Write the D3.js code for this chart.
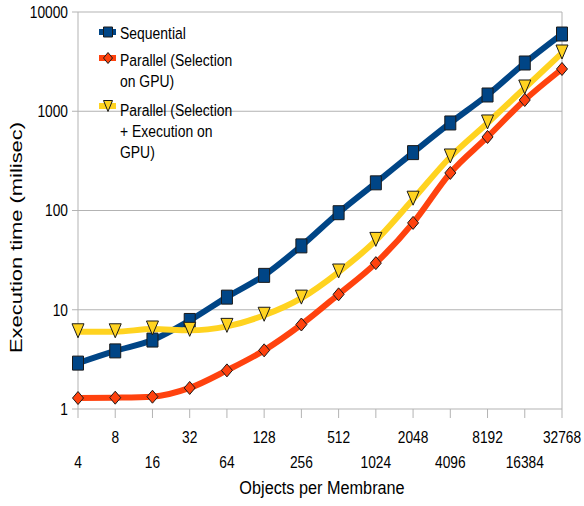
<!DOCTYPE html>
<html>
<head>
<meta charset="utf-8">
<script src="https://cdn.jsdelivr.net/npm/d3@7"></script>
<style>
  html, body { margin: 0; padding: 0; background: #fff; }
  svg { display: block; font-family: "Liberation Sans", Arial, sans-serif; }
</style>
</head>
<body>
<svg id="chart" width="584" height="506"></svg>
<script>
// ---- data ----
const objects = [4, 8, 16, 32, 64, 128, 256, 512, 1024, 2048, 4096, 8192, 16384, 32768];
const sequential = [2.9, 3.85, 4.95, 7.8, 13.4, 22.2, 44, 95, 190, 383, 762, 1458, 3063, 6000];
const parallelSel = [1.29, 1.3, 1.33, 1.63, 2.45, 3.9, 7.1, 14.3, 29.5, 75, 239, 551, 1298, 2666];
const parallelSelExec = [6.0, 6.0, 6.4, 6.2, 6.8, 8.8, 13.1, 24, 50, 130, 346, 762, 1715, 3864];
const yTicks = [1, 10, 100, 1000, 10000];
const seriesNames = ["Sequential", "Parallel (Selection on GPU)", "Parallel (Selection + Execution on GPU)"];
const legendLines = [["Sequential"], ["Parallel (Selection", "on GPU)"], ["Parallel (Selection", "+ Execution on", "GPU)"]];

// ---- layout ----
const L = 78, R = 562, T = 12, B = 409;
const svg = d3.select("#chart");
const x = d3.scaleLog().base(2).domain([4, 32768]).range([L, R]);
const y = d3.scaleLog().domain([1, 10000]).range([B, T]);
const grid = "#b3b3b3";

// gridlines (horizontal)
svg.append("g").selectAll("line").data(yTicks).join("line")
  .attr("x1", L - 6).attr("x2", R)
  .attr("y1", d => y(d)).attr("y2", d => y(d))
  .attr("stroke", grid).attr("stroke-width", 1);
// frame verticals
svg.append("line").attr("x1", L).attr("x2", L).attr("y1", T).attr("y2", B)
  .attr("stroke", grid);
svg.append("line").attr("x1", R).attr("x2", R).attr("y1", T).attr("y2", B)
  .attr("stroke", grid);
// x ticks
svg.append("g").selectAll("line").data(objects).join("line")
  .attr("x1", d => x(d)).attr("x2", d => x(d))
  .attr("y1", B).attr("y2", B + 9)
  .attr("stroke", grid);

// y tick labels
svg.append("g").selectAll("text").data(yTicks).join("text")
  .attr("transform", d => `translate(68,${y(d)}) scale(0.86,1)`)
  .attr("dy", "0.36em")
  .attr("text-anchor", "end")
  .attr("font-size", 16)
  .attr("fill", "#000")
  .text(d => d);

// x tick labels (staggered)
svg.append("g").selectAll("text").data(objects).join("text")
  .attr("transform", (d, i) => `translate(${x(d)},${i % 2 ? 443 : 468}) scale(0.86,1)`)
  .attr("text-anchor", "middle")
  .attr("font-size", 16)
  .attr("fill", "#000")
  .text(d => d);

// axis titles
svg.append("text")
  .attr("transform", `translate(322,494) scale(0.93,1)`)
  .attr("text-anchor", "middle")
  .attr("font-size", 17.5)
  .attr("fill", "#000")
  .text("Objects per Membrane");

svg.append("text")
  .attr("transform", `translate(22,${(122 + 353) / 2}) rotate(-90)`)
  .attr("x", -115.5)
  .attr("font-size", 17)
  .attr("textLength", 231)
  .attr("lengthAdjust", "spacingAndGlyphs")
  .attr("fill", "#000")
  .text("Execution time (milisec)");

// ---- series ----
const colors = ["#004586", "#ff420e", "#ffd320"];
const allData = [sequential, parallelSel, parallelSelExec];

function markerPath(type, w, h) {
  const a = w / 2, b = h / 2;
  if (type === 0) return `M${-a},${-b}H${a}V${b}H${-a}Z`;
  if (type === 1) return `M0,${-b}L${a},0L0,${b}L${-a},0Z`;
  return `M${-a},${-b}H${a}L0,${b}Z`;
}
const mSize = [[11, 14], [11, 13], [12, 14]];

const line = d3.line()
  .x((d, i) => x(objects[i]))
  .y(d => y(d))
  .curve(d3.curveMonotoneX);

allData.forEach((vals, s) => {
  svg.append("path")
    .attr("d", line(vals))
    .attr("fill", "none")
    .attr("stroke", colors[s])
    .attr("stroke-width", 6)
    .attr("stroke-linejoin", "round");
  svg.append("g").selectAll("path").data(vals).join("path")
    .attr("transform", (d, i) => `translate(${x(objects[i])},${y(d) - (s === 2 ? 1 : 0)})`)
    .attr("d", markerPath(s, mSize[s][0], mSize[s][1]))
    .attr("fill", colors[s])
    .attr("stroke", "#1a1a1a")
    .attr("stroke-width", 1);
});

// ---- legend ----
const legendY = [32, 58, 106];
const legendBase = [39, 66, 116];
legendLines.forEach((lines, s) => {
  const g = svg.append("g");
  g.append("line").attr("x1", 99).attr("x2", 116)
    .attr("y1", legendY[s]).attr("y2", legendY[s])
    .attr("stroke", colors[s]).attr("stroke-width", 6);
  g.append("path")
    .attr("transform", `translate(108,${legendY[s]})`)
    .attr("d", markerPath(s, 9, s === 0 ? 10 : 11))
    .attr("fill", colors[s]).attr("stroke", "#1a1a1a").attr("stroke-width", 1);
  lines.forEach((t, k) => {
    g.append("text")
      .attr("transform", `translate(120,${legendBase[s] + k * 21}) scale(0.82,1)`)
      .attr("font-size", 17)
      .attr("fill", "#000")
      .text(t);
  });
});
</script>
</body>
</html>
